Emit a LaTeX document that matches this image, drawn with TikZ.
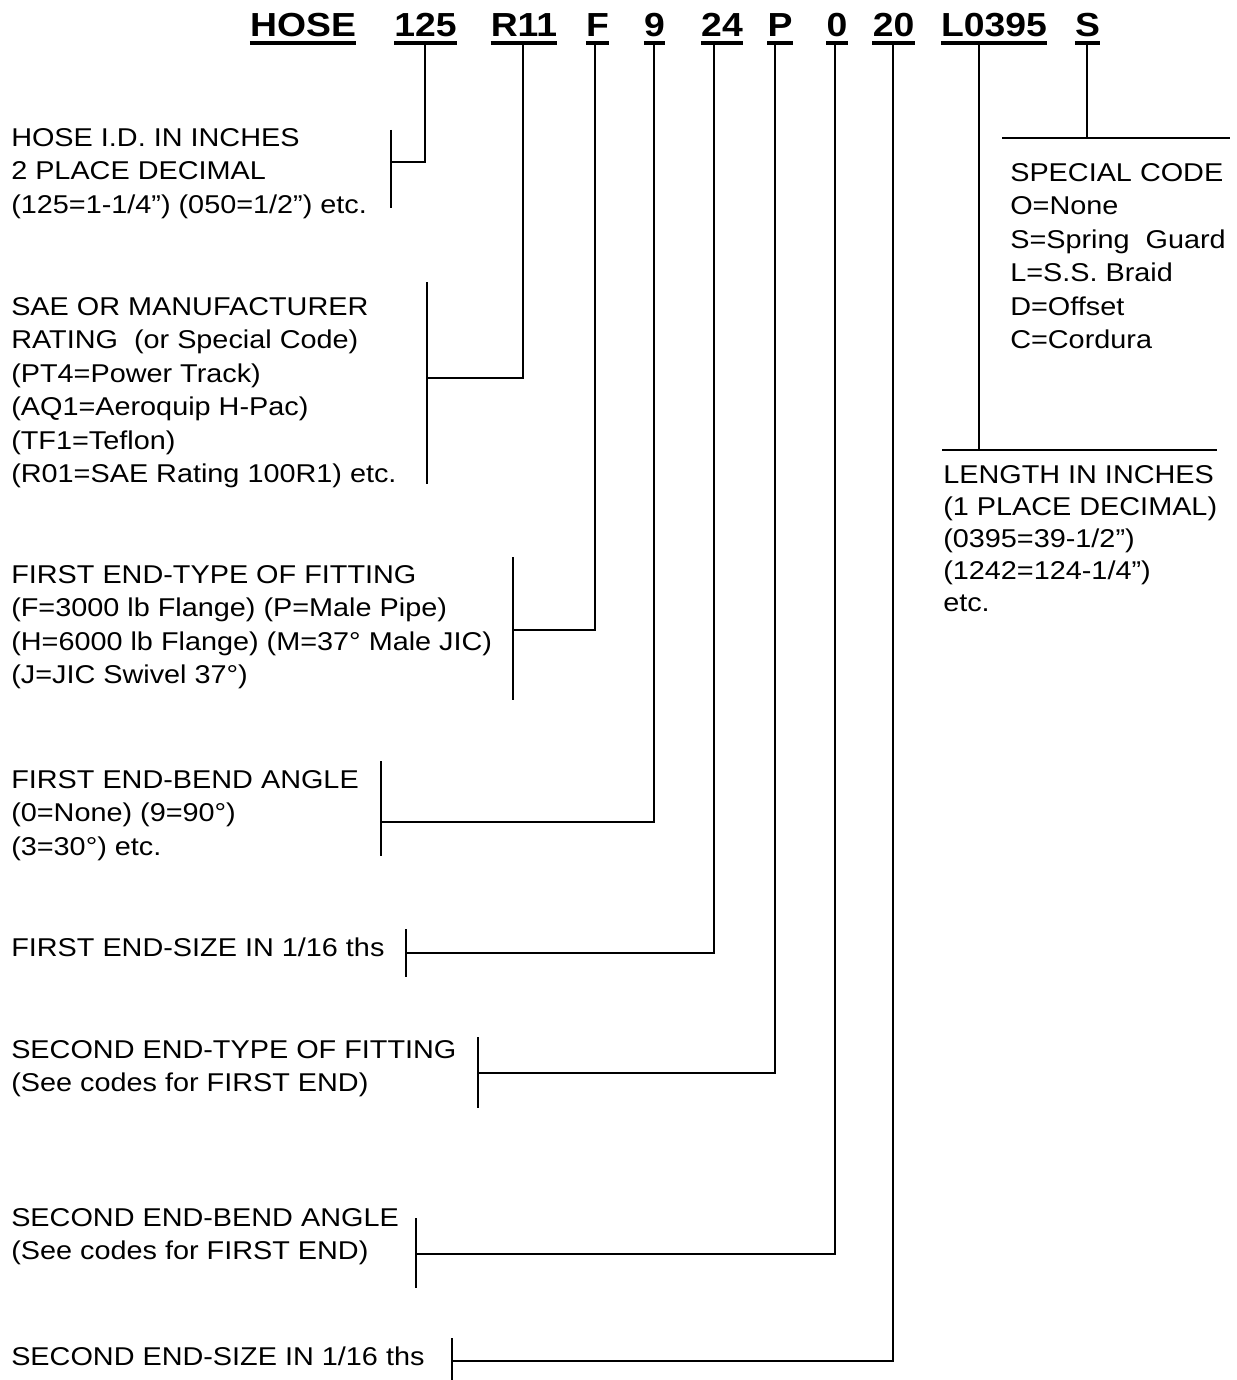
\documentclass[tikz,border=0pt]{standalone}
\usepackage{fontspec}
\setmainfont{Liberation Sans}[FakeStretch=1.12]
\usepackage{tikz}
\usetikzlibrary{calc}

\begin{document}
\begin{tikzpicture}[
  x=0.75pt, y=-0.75pt,
  code/.style={
    font=\fontsize{25}{30}\selectfont\bfseries,
    inner sep=0pt, anchor=base
  },
  desc/.style={
    font=\fontsize{19.3}{25.1}\selectfont,
    inner sep=0pt, anchor=north west, align=left
  },
  uline/.style={line width=2.3pt},
  lead/.style={line width=1.5pt},
]
\useasboundingbox (0,0) rectangle (1237,1380);

%%% Part number header
\node[code] (hose)  at (303,37)  {HOSE};
\node[code] (id)    at (425.5,37) {125};
\node[code] (rate)  at (524,37)  {R11};
\node[code] (ftype) at (597.5,37) {F};
\node[code] (fbend) at (654.5,37) {9};
\node[code] (fsize) at (722,37)  {24};
\node[code] (stype) at (780,37)  {P};
\node[code] (sbend) at (837,37)  {0};
\node[code] (ssize) at (893.5,37) {20};
\node[code] (len)   at (994,37)  {L0395};
\node[code] (spec)  at (1087.5,37) {S};

%%% Underlines
\coordinate (ul) at (0,43);
\draw[uline] (hose.west |- ul)  -- (hose.east |- ul);
\draw[uline] (id.west |- ul)    -- (id.east |- ul);
\draw[uline] (rate.west |- ul)  -- (rate.east |- ul);
\draw[uline] (ftype.west |- ul) -- (ftype.east |- ul);
\draw[uline] (fbend.west |- ul) -- (fbend.east |- ul);
\draw[uline] (fsize.west |- ul) -- (fsize.east |- ul);
\draw[uline] (stype.west |- ul) -- (stype.east |- ul);
\draw[uline] (sbend.west |- ul) -- (sbend.east |- ul);
\draw[uline] (ssize.west |- ul) -- (ssize.east |- ul);
\draw[uline] (len.west |- ul)   -- (len.east |- ul);
\draw[uline] (spec.west |- ul)  -- (spec.east |- ul);

%%% Taps below the underlines
\coordinate (t1)  at (425,44);
\coordinate (t2)  at (523,44);
\coordinate (t3)  at (595,44);
\coordinate (t4)  at (654,44);
\coordinate (t5)  at (714,44);
\coordinate (t6)  at (775,44);
\coordinate (t7)  at (835,44);
\coordinate (t8)  at (893,44);
\coordinate (t9)  at (979,44);
\coordinate (t10) at (1087,44);

%%% Descriptions, left column
\node[desc] (d1) at (11,128)
  {HOSE I.D. IN INCHES\\2 PLACE DECIMAL\\(125=1-1/4”) (050=1/2”) etc.};
\node[desc] (d2) at (11,297)
  {SAE OR MANUFACTURER\\RATING\ \ (or Special Code)\\(PT4=Power Track)\\(AQ1=Aeroquip H-Pac)\\(TF1=Teflon)\\(R01=SAE Rating 100R1) etc.};
\node[desc] (d3) at (11,565)
  {FIRST END-TYPE OF FITTING\\(F=3000 lb Flange) (P=Male Pipe)\\(H=6000 lb Flange) (M=37° Male JIC)\\(J=JIC Swivel 37°)};
\node[desc] (d4) at (11,770)
  {FIRST END-BEND ANGLE\\(0=None) (9=90°)\\(3=30°) etc.};
\node[desc] (d5) at (11,938)
  {FIRST END-SIZE IN 1/16 ths};
\node[desc] (d6) at (11,1040)
  {SECOND END-TYPE OF FITTING\\(See codes for FIRST END)};
\node[desc] (d7) at (11,1208)
  {SECOND END-BEND ANGLE\\(See codes for FIRST END)};
\node[desc] (d8) at (11,1347)
  {SECOND END-SIZE IN 1/16 ths};

%%% Descriptions, right column
\node[desc] (d10) at (1010,163)
  {SPECIAL CODE\\O=None\\S=Spring\ \ Guard\\L=S.S. Braid\\D=Offset\\C=Cordura};
\node[desc, font=\fontsize{19.3}{24}\selectfont] (d9) at (943,465)
  {LENGTH IN INCHES\\(1 PLACE DECIMAL)\\(0395=39-1/2”)\\(1242=124-1/4”)\\etc.};

%%% Brackets beside the left column
\draw[lead] (391,130)  -- (391,208);
\draw[lead] (427,282)  -- (427,484);
\draw[lead] (513,557)  -- (513,700);
\draw[lead] (381,761)  -- (381,856);
\draw[lead] (406,929)  -- (406,977);
\draw[lead] (478,1037) -- (478,1108);
\draw[lead] (416,1218) -- (416,1288);
\draw[lead] (452,1338) -- (452,1380);

\coordinate (m1) at (391,162);
\coordinate (m2) at (427,378);
\coordinate (m3) at (513,630);
\coordinate (m4) at (381,822);
\coordinate (m5) at (406,953);
\coordinate (m6) at (478,1073);
\coordinate (m7) at (416,1254);
\coordinate (m8) at (452,1361);

%%% Leaders
\draw[lead] (t1) |- (m1);
\draw[lead] (t2) |- (m2);
\draw[lead] (t3) |- (m3);
\draw[lead] (t4) |- (m4);
\draw[lead] (t5) |- (m5);
\draw[lead] (t6) |- (m6);
\draw[lead] (t7) |- (m7);
\draw[lead] (t8) |- (m8);

%%% Right column bars
\coordinate (m9)  at (979,450);
\coordinate (m10) at (1087,138);
\draw[lead] (942,450)  -- (1217,450);
\draw[lead] (1002,138) -- (1230,138);
\draw[lead] (t9)  -- (m9);
\draw[lead] (t10) -- (m10);

\end{tikzpicture}
\end{document}
